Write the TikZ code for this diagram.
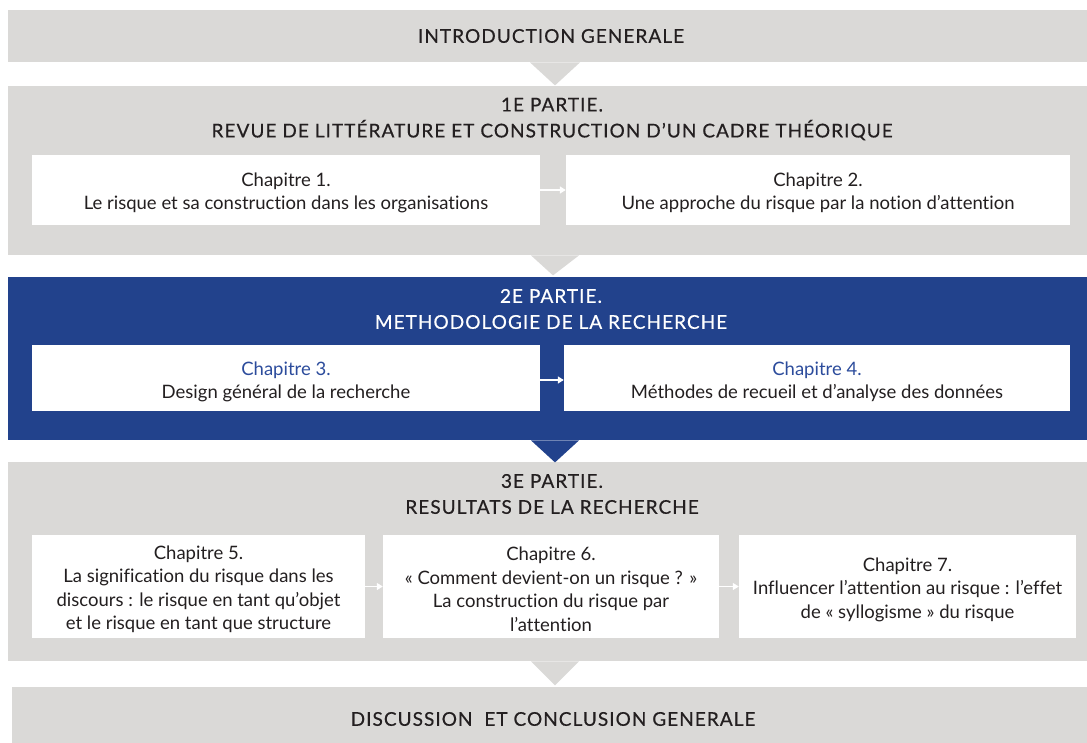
\documentclass[tikz,border=0pt]{standalone}
\usepackage{fontspec}
\setmainfont[Ligatures={TeX,NoCommon}]{Lato}
\usetikzlibrary{arrows.meta,calc}
\definecolor{pgray}{HTML}{DAD9D7}
\definecolor{pblue}{HTML}{22428C}
\definecolor{cblue}{HTML}{2C4C9C}
\definecolor{ink}{HTML}{231F20}
\tikzset{
  band/.style={fill=pgray, draw=none, inner sep=0pt, anchor=north west},
  bandblue/.style={fill=pblue, draw=none, inner sep=0pt, anchor=north west},
  titletext/.style={align=center, font=\fontsize{19}{26}\selectfont\addfontfeature{LetterSpace=5.5,FakeBold=0.5}, text=ink},
  chapbox/.style={fill=white, draw=none, inner sep=0pt},
  chaptext/.style={align=center, text=ink, yshift=-3pt,
    font=\fontsize{18.5}{23.5}\selectfont},
  flowarrow/.style={draw=white, line width=1.3pt, -{Triangle[length=6pt,width=7pt]}},
  tri/.style={fill=pgray, draw=none},
}
\begin{document}
\begin{tikzpicture}[x=1pt,y=-1pt]
\useasboundingbox (0,0) rectangle (1087,742);
% bands
\node[band, minimum width=1079pt, minimum height=52pt] (intro) at (8,10) {};
\node[titletext] (introt) at (551,36) {INTRODUCTION GENERALE};
\node[band, minimum width=1079pt, minimum height=169pt] (p1) at (8,86) {};
\node[titletext] (p1t) at (552,119) {1E PARTIE.\\REVUE DE LITTÉRATURE ET CONSTRUCTION D’UN CADRE THÉORIQUE};
\node[bandblue, minimum width=1079pt, minimum height=163pt] (p2) at (8,277) {};
\node[titletext, text=white] (p2t) at (551,309) {2E PARTIE.\\METHODOLOGIE DE LA RECHERCHE};
\node[band, minimum width=1079pt, minimum height=199pt] (p3) at (8,462) {};
\node[titletext] (p3t) at (552,494) {3E PARTIE.\\RESULTATS DE LA RECHERCHE};
\node[band, minimum width=1075pt, minimum height=60pt] (concl) at (12,687) {};
\node[titletext] (conclt) at (553,719) {DISCUSSION\ \ ET CONCLUSION GENERALE};
% triangles
\fill[tri] ($(intro.south west)+(522,0)$) -- ($(intro.south west)+(572,0)$) -- ($(intro.south west)+(547,23)$) -- cycle;
\fill[tri] ($(p1.south west)+(523,0)$) -- ($(p1.south west)+(571,0)$) -- ($(p1.south west)+(545,20)$) -- cycle;
\fill[pblue] ($(p2.south west)+(523,0)$) -- ($(p2.south west)+(571,0)$) -- ($(p2.south west)+(547,22)$) -- cycle;
\fill[tri] ($(p3.south west)+(523,0)$) -- ($(p3.south west)+(571,0)$) -- ($(p3.south west)+(547,24)$) -- cycle;
% chapters
\node[chapbox, minimum width=508pt, minimum height=70pt, label={[chaptext]center:{Chapitre 1.\\Le risque et sa construction dans les organisations}}] (c1) at (286,190) {};
\node[chapbox, minimum width=504pt, minimum height=70pt, label={[chaptext]center:{Chapitre 2.\\Une approche du risque par la notion d’attention}}] (c2) at (818,190) {};
\node[chapbox, minimum width=508pt, minimum height=66pt, label={[chaptext, yshift=-1pt]center:{\textcolor{cblue}{Chapitre 3.}\\Design général de la recherche}}] (c3) at (286,378) {};
\node[chapbox, minimum width=506pt, minimum height=66pt, label={[chaptext, yshift=-1pt]center:{\textcolor{cblue}{Chapitre 4.}\\Méthodes de recueil et d’analyse des données}}] (c4) at (817,378) {};
\node[chapbox, minimum width=333pt, minimum height=103pt, label={[chaptext]center:{Chapitre 5.\\La signification du risque dans les\\discours : le risque en tant qu’objet\\et le risque en tant que structure}}] (c5) at (198.5,586.5) {};
\node[chapbox, minimum width=336pt, minimum height=103pt, label={[chaptext]center:{Chapitre 6.\\« Comment devient-on un risque ? »\\La construction du risque par\\l’attention}}] (c6) at (551,586.5) {};
\node[chapbox, minimum width=337pt, minimum height=103pt, label={[chaptext]center:{Chapitre 7.\\Influencer l’attention au risque : l’effet\\de « syllogisme » du risque}}] (c7) at (907.5,586.5) {};
% arrows
\draw[flowarrow] (c1.east) -- (c2.west);
\draw[flowarrow] ([yshift=-2pt]c3.east) -- ([yshift=-2pt]c4.west);
\draw[flowarrow] (c5.east) -- (c6.west);
\draw[flowarrow] (c6.east) -- (c7.west);
\end{tikzpicture}
\end{document}
